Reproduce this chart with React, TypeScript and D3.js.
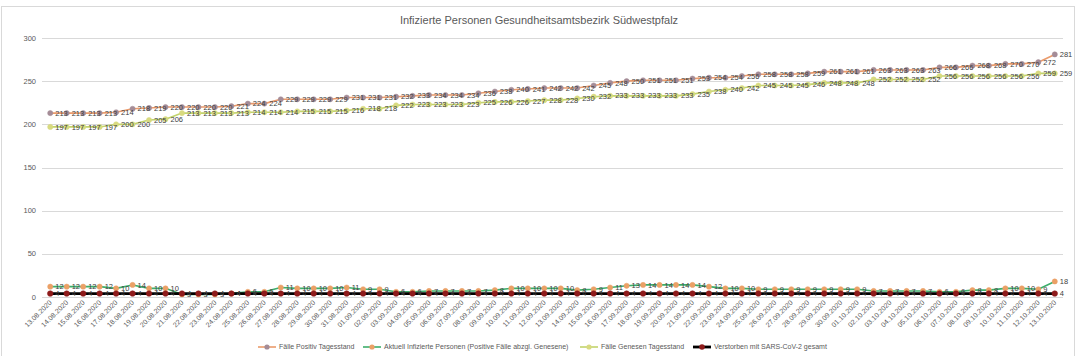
import React from "react";
import * as d3 from "d3";

const dates = [
  "13.08.2020", "14.08.2020", "15.08.2020", "16.08.2020", "17.08.2020", "18.08.2020", "19.08.2020",
  "20.08.2020", "21.08.2020", "22.08.2020", "23.08.2020", "24.08.2020", "25.08.2020", "26.08.2020",
  "27.08.2020", "28.08.2020", "29.08.2020", "30.08.2020", "31.08.2020",
  "01.09.2020", "02.09.2020", "03.09.2020", "04.09.2020", "05.09.2020", "06.09.2020", "07.09.2020",
  "08.09.2020", "09.09.2020", "10.09.2020", "11.09.2020", "12.09.2020", "13.09.2020", "14.09.2020",
  "15.09.2020", "16.09.2020", "17.09.2020", "18.09.2020", "19.09.2020", "20.09.2020", "21.09.2020",
  "22.09.2020", "23.09.2020", "24.09.2020", "25.09.2020", "26.09.2020", "27.09.2020", "28.09.2020",
  "29.09.2020", "30.09.2020",
  "01.10.2020", "02.10.2020", "03.10.2020", "04.10.2020", "05.10.2020", "06.10.2020", "07.10.2020",
  "08.10.2020", "09.10.2020", "10.10.2020", "11.10.2020", "12.10.2020", "13.10.2020",
];

const positiv = [
  213, 213, 213, 213, 214, 218, 219, 220, 220, 220,
  220, 221, 224, 224, 229, 229, 229, 229, 231, 231,
  231, 232, 233, 234, 234, 234, 236, 238, 240, 241,
  242, 242, 242, 245, 248, 250, 251, 251, 251, 253,
  254, 254, 256, 258, 258, 258, 259, 261, 261, 261,
  263, 263, 263, 263, 266, 266, 268, 268, 270, 270,
  272, 281,
];

const aktuell = [
  12, 12, 12, 12, 10, 14, 10, 10, 3, 3,
  3, 4, 6, 6, 11, 10, 10, 10, 11, 9,
  9, 6, 6, 7, 7, 7, 7, 8, 10, 10,
  10, 10, 8, 9, 11, 13, 14, 14, 14, 14,
  12, 10, 10, 9, 9, 9, 9, 9, 9, 9,
  7, 7, 7, 7, 6, 6, 8, 8, 10, 10,
  9, 18,
];

const genesen = [
  197, 197, 197, 197, 200, 200, 205, 206, 213, 213,
  213, 213, 214, 214, 214, 215, 215, 215, 216, 218,
  218, 222, 223, 223, 223, 223, 225, 226, 226, 227,
  228, 228, 230, 232, 233, 233, 233, 233, 233, 235,
  238, 240, 242, 245, 245, 245, 246, 248, 248, 248,
  252, 252, 252, 252, 256, 256, 256, 256, 256, 256,
  259, 259,
];

const verstorben = [
  4, 4, 4, 4, 4, 4, 4, 4, 4, 4,
  4, 4, 4, 4, 4, 4, 4, 4, 4, 4,
  4, 4, 4, 4, 4, 4, 4, 4, 4, 4,
  4, 4, 4, 4, 4, 4, 4, 4, 4, 4,
  4, 4, 4, 4, 4, 4, 4, 4, 4, 4,
  4, 4, 4, 4, 4, 4, 4, 4, 4, 4,
  4, 4,
];

const yTicks = [0, 50, 100, 150, 200, 250, 300];

const seriesNames = [
  "Fälle Positiv Tagesstand",
  "Aktuell Infizierte Personen (Positive Fälle abzgl. Genesene)",
  "Fälle Genesen Tagesstand",
  "Verstorben mit SARS-CoV-2 gesamt",
];

const title = "Infizierte Personen Gesundheitsamtsbezirk Südwestpfalz";

const W = 1079;
const H = 356;
const FONT = "'Liberation Sans Narrow', 'Liberation Sans', Arial, sans-serif";

export default function App() {
  const x = d3.scaleBand<string>().domain(dates).range([42, 1063]);
  const cx = (i: number) => (x(dates[i]) as number) + x.bandwidth() / 2;
  const y = d3.scaleLinear().domain([0, 300]).range([297, 38]);

  const series = [
    { name: seriesNames[0], values: positiv, line: "#EA9B6C", marker: "#A48C97", width: 1.6, r: 2.6 },
    { name: seriesNames[1], values: aktuell, line: "#3EAE6C", marker: "#EBA066", width: 1.6, r: 2.6 },
    { name: seriesNames[2], values: genesen, line: "#C2D46C", marker: "#D8DA80", width: 1.6, r: 2.6 },
    { name: seriesNames[3], values: verstorben, line: "#000000", marker: "#8E1B1B", width: 2.8, r: 2.8 },
  ];

  const lineGen = (vals: number[]) =>
    d3
      .line<number>()
      .x((_, i) => cx(i))
      .y((d) => y(d))(vals) || "";

  const legendPos = [258, 363, 580, 693];

  return (
    <svg
      width={W}
      height={H}
      style={{ position: "absolute", left: 0, top: 0, background: "#fff" }}
      fontFamily={FONT}
    >
      <rect x={0} y={0} width={W} height={H} fill="#fff" />
      <rect x={1.5} y={6.5} width={1073} height={360} fill="none" stroke="#D9D9D9" strokeWidth={1} />
      <text x={539} y={24} textAnchor="middle" fontSize={11} fill="#595959" fontFamily="'Liberation Sans', Arial, sans-serif">
        {title}
      </text>

      {yTicks.map((t) => (
        <g key={t}>
          <line x1={42} x2={1063} y1={Math.round(y(t)) + 0.5} y2={Math.round(y(t)) + 0.5} stroke="#D9D9D9" strokeWidth={1} />
          <text x={36} y={y(t)} dy="0.35em" textAnchor="end" fontSize={7.5} fill="#595959" fontFamily="'Liberation Sans', Arial, sans-serif">
            {t}
          </text>
        </g>
      ))}

      {dates.map((d, i) => (
        <text
          key={d}
          transform={`translate(${cx(i) + 2},${303}) rotate(-45)`}
          textAnchor="end"
          fontSize={7}
          fill="#595959"
          fontFamily="'Liberation Sans', Arial, sans-serif"
        >
          {d}
        </text>
      ))}

      {series.map((s) => (
        <g key={s.name}>
          <path d={lineGen(s.values)} fill="none" stroke={s.line} strokeWidth={s.width} strokeLinejoin="round" />
          {s.values.map((v, i) => (
            <circle key={i} cx={cx(i)} cy={y(v)} r={s.r} fill={s.marker} stroke={s.marker} strokeWidth={0.5} />
          ))}
        </g>
      ))}

      {series.map((s) => (
        <g key={s.name + "-labels"}>
          {s.values.map((v, i) => (
            <text key={i} x={cx(i) + 5} y={y(v)} dy="0.35em" fontSize={7.5} fill="#404040">
              {v}
            </text>
          ))}
        </g>
      ))}

      {series.map((s, k) => (
        <g key={s.name + "-legend"} transform={`translate(${legendPos[k]},347)`}>
          <line x1={0} x2={18} y1={0} y2={0} stroke={s.line} strokeWidth={s.width} />
          <circle cx={9} cy={0} r={s.r} fill={s.marker} />
          <text x={21} y={0} dy="0.35em" fontSize={7} fill="#595959">
            {s.name}
          </text>
        </g>
      ))}
    </svg>
  );
}
